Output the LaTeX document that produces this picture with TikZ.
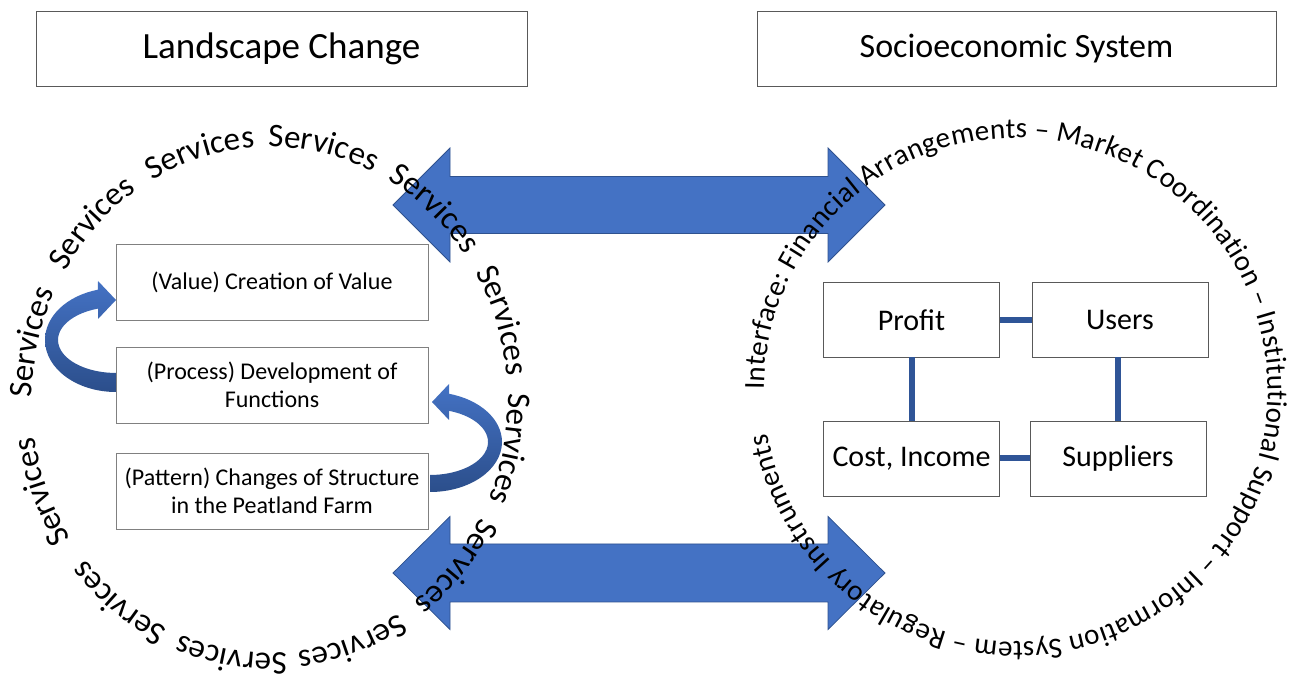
\documentclass[tikz,border=0pt]{standalone}
\usepackage{fontspec}
\setmainfont{Carlito}
\usetikzlibrary{decorations.text}
\definecolor{accblue}{HTML}{4472C4}
\definecolor{darkblue}{HTML}{2F5597}
\definecolor{edgeblue}{HTML}{2F528F}
\begin{document}
\begin{tikzpicture}[x=1pt,y=1pt,
  titlebox/.style={draw=black!65, line width=0.9pt, fill=white, inner sep=0pt, outer sep=0pt, minimum height=75pt},
  stagebox/.style={draw=black!50, line width=0.9pt, fill=white, inner sep=0pt, outer sep=0pt, minimum width=312pt, minimum height=76pt, align=center, font=\fontsize{24}{28}\selectfont},
  sysbox/.style={draw=black!65, line width=0.9pt, fill=white, inner sep=0pt, outer sep=0pt, minimum width=176pt, minimum height=75pt, font=\fontsize{30}{36}\selectfont},
  link/.style={draw=darkblue, line width=6pt},
  bigarrow/.style={fill=accblue, draw=edgeblue, line width=0.75pt},
  curvarrow/.style={top color=accblue, bottom color=darkblue!92!black, draw=none}
]
\useasboundingbox[fill=white] (0,0) rectangle (1294,675);

% titles
\node[titlebox, minimum width=491pt, font=\fontsize{37}{42}\selectfont] (tl) at (281.5,626.5) {Landscape Change};
\node[titlebox, minimum width=519pt, font=\fontsize{34}{40}\selectfont] (tr) at (1016.5,626.5) {Socioeconomic System};

% big double arrows
\path[bigarrow] (393,470) -- (450,527) -- (450,498.5) -- (828,498.5) -- (828,527) -- (885,470)
  -- (828,413) -- (828,441.5) -- (450,441.5) -- (450,413) -- cycle;
\path[bigarrow] (393,102) -- (450,158.5) -- (450,131) -- (828,131) -- (828,158.5) -- (885,102)
  -- (828,45.5) -- (828,73) -- (450,73) -- (450,45.5) -- cycle;

% curved arrows
\path[curvarrow] (116,283) arc[start angle=270, end angle=104.7, x radius=71, y radius=52]
  -- (98,394) -- (116,375) -- (98,356) -- (98,366.4)
  arc[start angle=108.1, end angle=270, x radius=58, y radius=33] -- cycle;
\path[curvarrow] (430,183) arc[start angle=-90, end angle=74.7, x radius=72, y radius=50]
  -- (449,291) -- (432,273) -- (449,255) -- (449,264.2)
  arc[start angle=70.9, end angle=-90, x radius=58, y radius=33] -- cycle;

% stage boxes
\node[stagebox] (value) at (272,393) {(Value) Creation of Value};
\node[stagebox] (process) at (272,290) {(Process) Development of\\Functions};
\node[stagebox] (pattern) at (272,184) {(Pattern) Changes of Structure\\in the Peatland Farm};

% system boxes
\node[sysbox] (profit) at (911.5,355) {Profit};
\node[sysbox] (users) at (1120,355) {Users};
\node[sysbox] (cost) at (911.5,216.5) {Cost, Income};
\node[sysbox] (supp) at (1118,216.5) {Suppliers};
\draw[link] (profit.east) -- (users.west);
\draw[link] (profit.south) -- (cost.north);
\draw[link] (supp.north |- users.south) -- (supp.north);
\draw[link] (cost.east) -- (supp.west);

% circular texts
\foreach \ang in {167,136.5,106.5,77.5,48,18,-11,-40.5,-70.5,-99,-128,-159} {
  \pgfmathsetmacro\sa{\ang+25}
  \pgfmathsetmacro\ea{\ang-25}
  \path[decorate, decoration={text along path,
    text={|\fontsize{33}{40}\selectfont|Services}, text align=center}]
    (270,275) ++(\sa:238 and 253) arc[start angle=\sa, end angle=\ea, x radius=238, y radius=253];
}
\path[decorate, decoration={text along path,
  text={|\fontsize{29}{34}\selectfont|Interface: Financial Arrangements – Market Coordination – Institutional Support – Information System – Regulatory Instruments},
  text align={fit to path}}]
  (1016,285) ++(180:252) arc[start angle=180, end angle=-170, radius=252];
\end{tikzpicture}
\end{document}
